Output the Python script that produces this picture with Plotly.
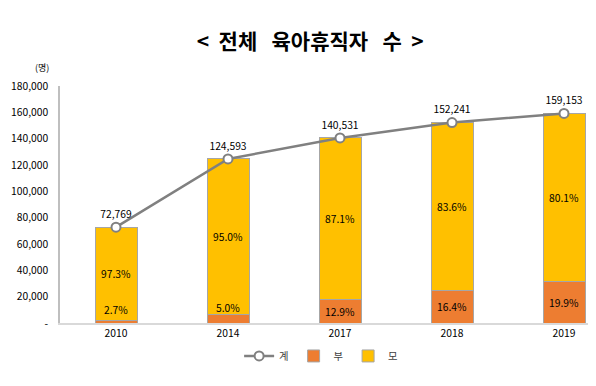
import plotly.graph_objects as go

years = ["2010", "2014", "2017", "2018", "2019"]
total = [72769, 124593, 140531, 152241, 159153]
father = [1965, 6230, 18128, 24968, 31671]
mother = [70804, 118363, 122403, 127273, 127482]
father_pct = ["2.7%", "5.0%", "12.9%", "16.4%", "19.9%"]
mother_pct = ["97.3%", "95.0%", "87.1%", "83.6%", "80.1%"]
total_lbl = ["72,769", "124,593", "140,531", "152,241", "159,153"]
y_ticks = [0, 20000, 40000, 60000, 80000, 100000, 120000, 140000, 160000, 180000]
y_tick_text = ["-", "20,000", "40,000", "60,000", "80,000", "100,000", "120,000", "140,000", "160,000", "180,000"]
father_shift = [12, 11, 0, 0, 0]

FONT = "Noto Sans CJK KR"
FS = 10.3
fig = go.Figure()
fig.add_trace(go.Bar(x=years, y=father, name="부", legendrank=2,
                     marker=dict(color="#ED7D31", line=dict(color="#A6A6A6", width=1)), width=0.375))
fig.add_trace(go.Bar(x=years, y=mother, name="모", legendrank=3,
                     marker=dict(color="#FFC000", line=dict(color="#A6A6A6", width=1)), width=0.375,
                     text=mother_pct, textposition="inside", insidetextanchor="middle",
                     textfont=dict(size=FS, color="#000000", family=FONT)))
fig.add_trace(go.Scatter(x=years, y=total, name="계", legendrank=1, mode="lines+markers+text",
                         text=total_lbl, textposition="top center",
                         textfont=dict(size=FS, color="#000000", family=FONT),
                         line=dict(color="#808080", width=2.5),
                         marker=dict(symbol="circle", size=9, color="#FFFFFF", line=dict(color="#808080", width=2)),
                         cliponaxis=False))

for i, (f, t, s) in enumerate(zip(father, father_pct, father_shift)):
    fig.add_annotation(x=i, y=f / 2, text=t, showarrow=False, yshift=s,
                       font=dict(size=FS, color="#000000", family=FONT))

fig.add_annotation(xref="paper", yref="paper", x=-0.033, y=1.08, xanchor="center", yanchor="middle",
                   text="(명)", showarrow=False, font=dict(size=9, color="#000000", family=FONT))

fig.update_layout(
    width=596, height=386,
    margin=dict(l=52, r=0, t=78, b=71, autoexpand=False),
    paper_bgcolor="white", plot_bgcolor="white",
    barmode="stack",
    title=dict(text="<b>&lt;  전체   육아휴직자   수  &gt;</b>", x=0.507, xanchor="center",
               xref="container", yref="container", y=0.912, yanchor="middle",
               font=dict(size=21, color="#000000", family=FONT)),
    font=dict(family=FONT, size=FS, color="#000000"),
    legend=dict(orientation="h", x=0.48, xanchor="center", y=-0.139, yanchor="middle",
                traceorder="normal", font=dict(size=FS, color="#404040"), itemwidth=30),
    showlegend=True,
)
fig.update_xaxes(type="category", range=[-0.5, 4.357], showline=True, linecolor="#D9D9D9", linewidth=2,
                 showgrid=False, ticks="", tickfont=dict(size=FS, color="#000000"))
fig.update_yaxes(range=[0, 180000], tickvals=y_ticks, ticktext=y_tick_text, showline=True,
                 linecolor="#BFBFBF", linewidth=1.5, showgrid=False, zeroline=False,
                 ticks="outside", ticklen=8, tickcolor="rgba(0,0,0,0)",
                 tickfont=dict(size=FS, color="#000000"))

fig.write_html("out.html")
